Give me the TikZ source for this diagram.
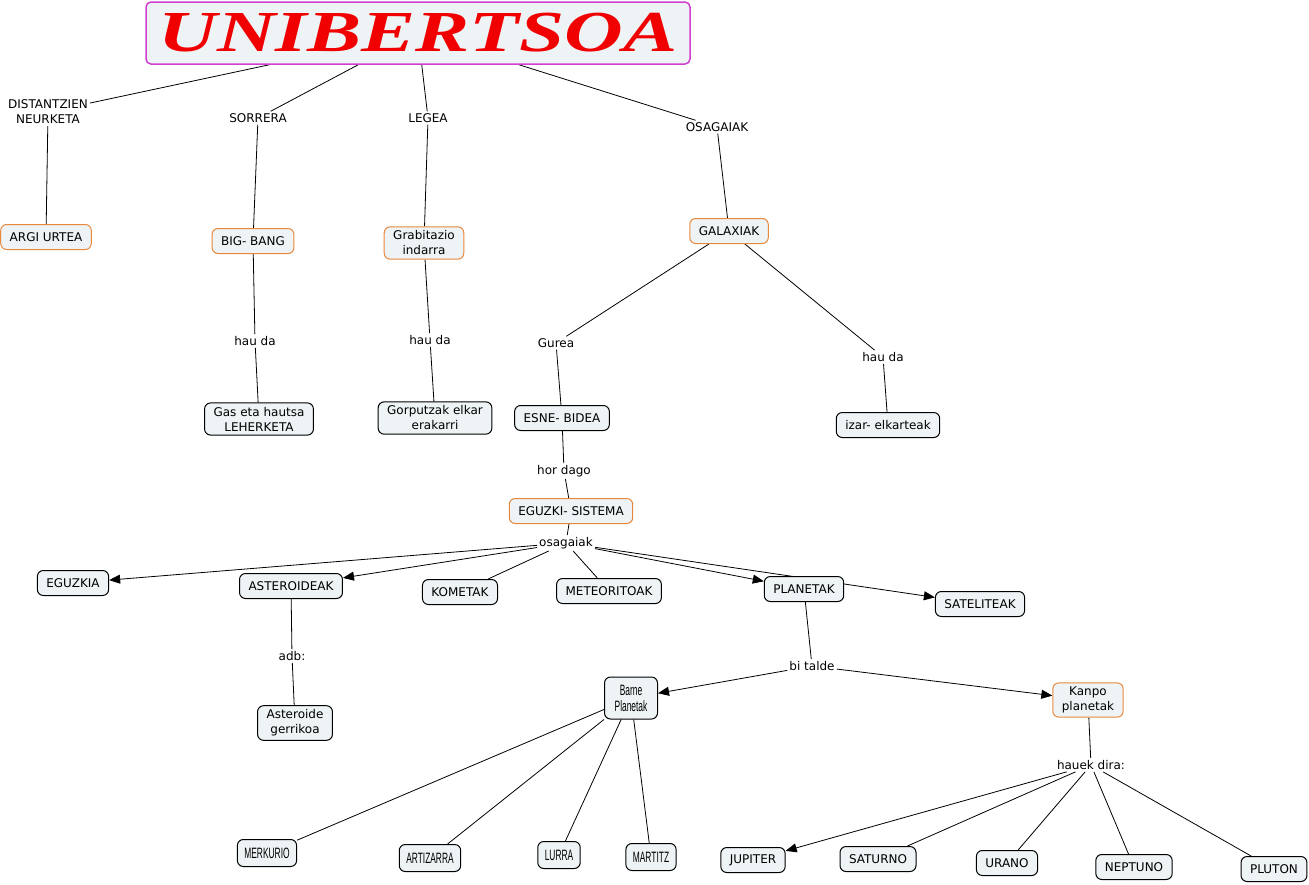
\documentclass[tikz,border=0pt]{standalone}
\usepackage{fontspec}
\setmainfont{DejaVu Sans}
\newfontfamily\narrowfont[FakeStretch=0.56]{Liberation Sans}
\newfontfamily\titlefont[FakeStretch=1.4]{Liberation Serif}
\usetikzlibrary{arrows.meta,backgrounds}
\definecolor{boxfill}{HTML}{EEF3F5}
\definecolor{boxorange}{HTML}{E8883A}
\definecolor{titlemagenta}{HTML}{D040D0}
\definecolor{titlered}{HTML}{F00000}
\tikzset{
  concept/.style={draw=black, fill=boxfill, rounded corners=6pt, line width=1pt,
    inner xsep=9pt, inner ysep=4pt, minimum height=25pt, align=center,
    font=\fontsize{12}{15}\selectfont},
  keyconcept/.style={concept, draw=boxorange},
  narrowconcept/.style={concept, inner xsep=7pt, minimum height=27pt,
    font=\narrowfont\fontsize{15}{16}\selectfont},
  linkword/.style={inner sep=2pt, align=center, font=\fontsize{12}{15}\selectfont},
  link/.style={line width=0.8pt},
  linkarrow/.style={link, -{Triangle[length=11pt,width=9pt]}},
}
\begin{document}
\begin{tikzpicture}[x=1pt, y=-1pt]
    \useasboundingbox (0,0) rectangle (1309,884);
    % title
    \node[draw=titlemagenta, fill=boxfill, rounded corners=5pt, line width=1.5pt,
      minimum width=544pt, minimum height=62pt] (title) at (418,33)
      {\titlefont\bfseries\itshape\fontsize{58}{58}\selectfont\color{titlered}UNIBERTSOA};
    % first row of linking words
    \node[linkword] (distantzien) at (48,112) {DISTANTZIEN\\NEURKETA};
    \node[linkword] (sorrera) at (258,118) {SORRERA};
    \node[linkword] (legea) at (428,118) {LEGEA};
    \node[linkword] (osagaiakTop) at (717,127) {OSAGAIAK};
    % main concepts
    \node[keyconcept] (argi) at (46,237) {ARGI URTEA};
    \node[keyconcept] (bigbang) at (253,241) {BIG- BANG};
    \node[keyconcept] (grabitazio) at (424,243) {Grabitazio\\indarra};
    \node[keyconcept] (galaxiak) at (729,231) {GALAXIAK};
    \node[linkword] (haudaA) at (255,341) {hau da};
    \node[linkword] (haudaB) at (430,340) {hau da};
    \node[linkword] (gurea) at (556,343) {Gurea};
    \node[linkword] (haudaC) at (883,357) {hau da};
    \node[concept] (gas) at (259,419) {Gas eta hautsa\\LEHERKETA};
    \node[concept] (gorputzak) at (435,418) {Gorputzak elkar\\erakarri};
    \node[concept] (esne) at (562,418) {ESNE- BIDEA};
    \node[concept] (izar) at (888,425) {izar- elkarteak};
    % solar system
    \node[linkword] (hordago) at (564,471) {hor dago};
    \node[keyconcept] (eguzkiSistema) at (571,511) {EGUZKI- SISTEMA};
    \node[linkword] (osagaiak) at (566,543) {osagaiak};
    \node[concept] (eguzkia) at (73,583) {EGUZKIA};
    \node[concept] (asteroideak) at (291,586) {ASTEROIDEAK};
    \node[concept] (kometak) at (460,592) {KOMETAK};
    \node[concept] (meteoritoak) at (609,591) {METEORITOAK};
    \node[concept] (planetak) at (804,589) {PLANETAK};
    \node[concept] (sateliteak) at (980,604) {SATELITEAK};
    \node[linkword] (adb) at (292,656) {adb:};
    \node[concept] (gerrikoa) at (295,723) {Asteroide\\gerrikoa};
    % planets
    \node[linkword] (bitalde) at (812,666) {bi talde};
    \node[narrowconcept, minimum width=53pt, minimum height=42pt] (barne) at (631,698) {Barne\\Planetak};
    \node[keyconcept] (kanpo) at (1088,700) {Kanpo\\planetak};
    \node[linkword] (hauek) at (1091,765) {hauek dira:};
    \node[narrowconcept] (merkurio) at (267,853) {MERKURIO};
    \node[narrowconcept] (artizarra) at (430,858) {ARTIZARRA};
    \node[narrowconcept] (lurra) at (559,855) {LURRA};
    \node[narrowconcept] (martitz) at (651,857) {MARTITZ};
    \node[concept] (jupiter) at (753,860) {JUPITER};
    \node[concept] (saturno) at (878,859) {SATURNO};
    \node[concept] (urano) at (1007,863) {URANO};
    \node[concept] (neptuno) at (1134,867) {NEPTUNO};
    \node[concept] (pluton) at (1274,869) {PLUTON};
    % connectors
    \begin{scope}[on background layer]
        \foreach \a/\b in {title/distantzien, title/sorrera, title/legea, title/osagaiakTop,
            distantzien/argi, sorrera/bigbang, legea/grabitazio, osagaiakTop/galaxiak,
            bigbang/haudaA, haudaA/gas, grabitazio/haudaB, haudaB/gorputzak,
            galaxiak/gurea, gurea/esne, galaxiak/haudaC, haudaC/izar,
            esne/hordago, hordago/eguzkiSistema, eguzkiSistema/osagaiak,
            osagaiak/kometak, osagaiak/meteoritoak, asteroideak/adb, adb/gerrikoa,
            planetak/bitalde, barne/merkurio, barne/artizarra, barne/lurra, barne/martitz,
            kanpo/hauek, hauek/saturno, hauek/urano, hauek/neptuno, hauek/pluton}
            \draw[link] (\a) -- (\b);
        \foreach \a/\b in {osagaiak/eguzkia, osagaiak/asteroideak, osagaiak/planetak,
            osagaiak/sateliteak, bitalde/barne, bitalde/kanpo, hauek/jupiter}
            \draw[linkarrow] (\a) -- (\b);
    \end{scope}
\end{tikzpicture}
\end{document}
